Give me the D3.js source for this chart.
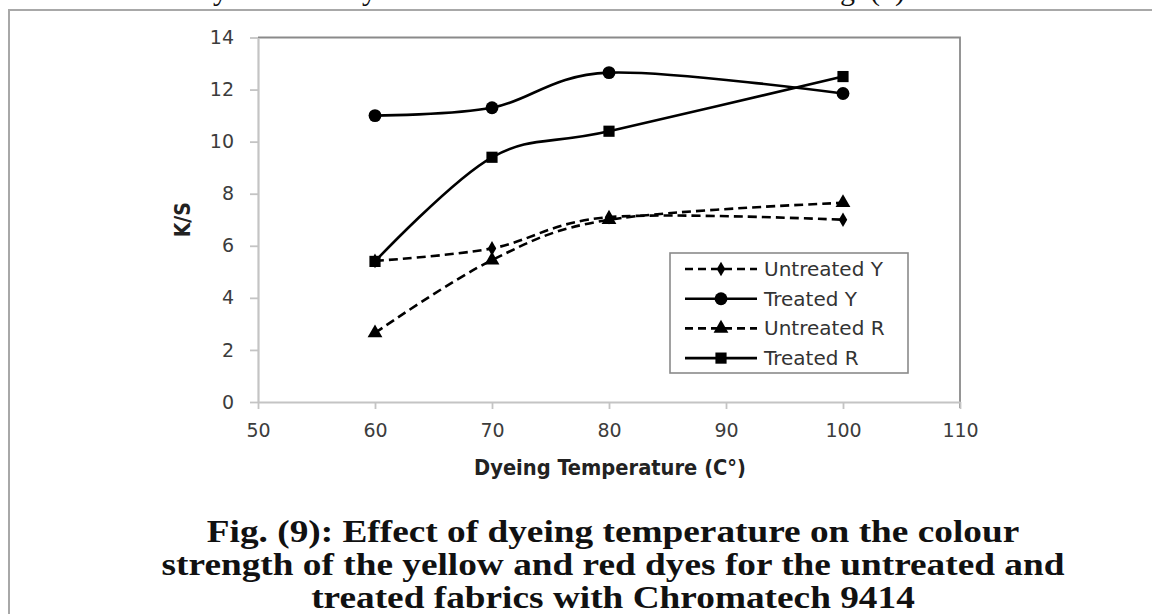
<!DOCTYPE html>
<html>
<head>
<meta charset="utf-8">
<script src="https://cdn.jsdelivr.net/npm/d3@7/dist/d3.min.js"></script>
<style>
  html, body { margin: 0; padding: 0; background: #fff; }
  svg { display: block; }
</style>
</head>
<body>
<svg id="chart" width="1152" height="614"></svg>
<script>
// Dyeing temperature (°C) and K/S colour strength per series
const temperatures = [60, 70, 80, 100];
const untreatedY = [5.42, 5.9, 7.1, 7.0];
const treatedY   = [11.0, 11.3, 12.65, 11.85];
const untreatedR = [2.65, 5.45, 7.0, 7.65];
const treatedR   = [5.4, 9.4, 10.4, 12.5];

const seriesNames = ["Untreated Y", "Treated Y", "Untreated R", "Treated R"];
const seriesSymbols = ["diamond", "circle", "triangle", "square"];
const seriesDashed = [true, false, true, false];

const xTicks = [50, 60, 70, 80, 90, 100, 110];
const yTicks = [0, 2, 4, 6, 8, 10, 12, 14];

const captionLines = [
  "Fig. (9): Effect of dyeing temperature on the colour",
  "strength of the yellow and red dyes for the untreated and",
  "treated fabrics with Chromatech 9414"
];

const svg = d3.select("#chart");

// Page frame around the figure
svg.append("rect")
  .attr("x", 9).attr("y", 10)
  .attr("width", 1300).attr("height", 800)
  .attr("fill", "none")
  .attr("stroke", "#a8a8a8")
  .attr("stroke-width", 2);

// Tail of the preceding text line (only descenders remain visible)
const prev = svg.append("text")
  .attr("y", 0)
  .attr("font-family", "'Liberation Serif', 'Times New Roman', serif")
  .attr("font-size", 30)
  .attr("fill", "#111");
prev.append("tspan").attr("x", 198).text("by");
prev.append("tspan").attr("x", 347).text("dyes");
prev.append("tspan").attr("x", 815).text("Fig. (9)");

const plot = { left: 258, right: 960, top: 37.5, bottom: 402 };

const x = d3.scaleLinear().domain([50, 110]).range([plot.left, plot.right]);
const y = d3.scaleLinear().domain([0, 14]).range([plot.bottom, plot.top]);

const tickFont = "'DejaVu Sans', Verdana, sans-serif";

// Plot-area outline on top and right
svg.append("path")
  .attr("d", `M${plot.left},${plot.top}H${plot.right}V${plot.bottom + 6}`)
  .attr("fill", "none")
  .attr("stroke", "#8a8a8a")
  .attr("stroke-width", 1.8);

// Y axis
const yAxis = svg.append("g")
  .attr("transform", `translate(${plot.left},0)`)
  .call(d3.axisLeft(y).tickValues(yTicks).tickSize(8).tickPadding(16).tickSizeOuter(0));
yAxis.select(".domain").attr("stroke", "#c4c4c4").attr("stroke-width", 2.2);
yAxis.selectAll(".tick line").attr("stroke", "#c4c4c4").attr("stroke-width", 1.8);
yAxis.selectAll(".tick text")
  .attr("font-family", tickFont).attr("font-size", 19).attr("fill", "#3c3c3c");

// X axis
const xAxis = svg.append("g")
  .attr("transform", `translate(0,${plot.bottom})`)
  .call(d3.axisBottom(x).tickValues(xTicks).tickSize(7).tickPadding(15).tickSizeOuter(0));
xAxis.select(".domain").attr("stroke", "#c4c4c4").attr("stroke-width", 2.2);
xAxis.selectAll(".tick line").attr("stroke", "#c4c4c4").attr("stroke-width", 1.8);
xAxis.selectAll(".tick text")
  .attr("font-family", tickFont).attr("font-size", 19).attr("fill", "#3c3c3c");

// Axis titles
const titleFont = "'Liberation Sans Narrow', 'DejaVu Sans Condensed', 'Arial Narrow', sans-serif";
svg.append("text")
  .attr("x", 610).attr("y", 475)
  .attr("text-anchor", "middle")
  .attr("font-family", titleFont)
  .attr("font-weight", "bold")
  .attr("font-size", 21)
  .attr("textLength", 272)
  .attr("lengthAdjust", "spacingAndGlyphs")
  .attr("fill", "#222")
  .text("Dyeing Temperature (C°)");

svg.append("text")
  .attr("transform", `translate(190,${(plot.top + plot.bottom) / 2}) rotate(-90)`)
  .attr("text-anchor", "middle")
  .attr("font-family", titleFont)
  .attr("font-weight", "bold")
  .attr("font-size", 21)
  .attr("fill", "#222")
  .text("K/S");

// Series
const allValues = [untreatedY, treatedY, untreatedR, treatedR];
const symbolTypes = {
  diamond: d3.symbolDiamond,
  circle: d3.symbolCircle,
  triangle: d3.symbolTriangle,
  square: d3.symbolSquare
};
const symbolSizes = { diamond: 62, circle: 130, triangle: 95, square: 125 };

const line = d3.line()
  .x(d => x(d[0]))
  .y(d => y(d[1]))
  .curve(d3.curveCatmullRom.alpha(0));

allValues.forEach((vals, i) => {
  const pts = temperatures.map((t, j) => [t, vals[j]]);
  svg.append("path")
    .datum(pts)
    .attr("d", line)
    .attr("fill", "none")
    .attr("stroke", "#000")
    .attr("stroke-width", 2.6)
    .attr("stroke-dasharray", seriesDashed[i] ? "9,5" : null);
});

// Markers drawn after all lines, in series order
allValues.forEach((vals, i) => {
  const sym = seriesSymbols[i];
  svg.append("g").selectAll("path")
    .data(temperatures.map((t, j) => [t, vals[j]]))
    .join("path")
    .attr("transform", d => `translate(${x(d[0])},${y(d[1])})`)
    .attr("d", d3.symbol().type(symbolTypes[sym]).size(symbolSizes[sym]))
    .attr("fill", "#000");
});

// Legend
const legend = svg.append("g").attr("transform", "translate(670,253)");
legend.append("rect")
  .attr("width", 238).attr("height", 120)
  .attr("fill", "#fff")
  .attr("stroke", "#8a8a8a")
  .attr("stroke-width", 1.6);
seriesNames.forEach((name, i) => {
  const ry = 16 + i * 29.7;
  legend.append("line")
    .attr("x1", 15).attr("x2", 87)
    .attr("y1", ry).attr("y2", ry)
    .attr("stroke", "#000")
    .attr("stroke-width", 2.6)
    .attr("stroke-dasharray", seriesDashed[i] ? "8,5" : null);
  const sym = seriesSymbols[i];
  legend.append("path")
    .attr("transform", `translate(51,${ry})`)
    .attr("d", d3.symbol().type(symbolTypes[sym]).size(symbolSizes[sym]))
    .attr("fill", "#000");
  legend.append("text")
    .attr("x", 94).attr("y", ry + 7)
    .attr("font-family", tickFont)
    .attr("font-size", 20)
    .attr("fill", "#333")
    .text(name);
});

// Figure caption, bold serif, centred
const caption = svg.append("g");
const capBaselines = [542, 575, 608];
const capTexts = captionLines.map((t, i) =>
  caption.append("text")
    .attr("x", 0).attr("y", 0)
    .attr("text-anchor", "middle")
    .attr("font-family", "'Liberation Serif', 'Times New Roman', serif")
    .attr("font-weight", "bold")
    .attr("font-size", 32)
    .attr("fill", "#111")
    .text(t)
);
const refWidth = capTexts[1].node().getComputedTextLength();
const sx = 903 / refWidth;
capTexts.forEach((t, i) => {
  t.attr("transform", `translate(613,${capBaselines[i]}) scale(${sx},1)`);
});
</script>
</body>
</html>
